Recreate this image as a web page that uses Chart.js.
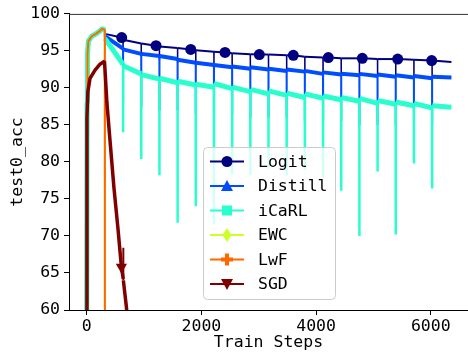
<!DOCTYPE html>
<html lang="en">
<head>
<meta charset="UTF-8">
<script src="https://cdn.jsdelivr.net/npm/chart.js@4.4.1/dist/chart.umd.min.js"></script>
<title>test0_acc</title>
<style>
  html, body { margin: 0; padding: 0; background: #fff; }
  canvas { display: block; }
</style>
</head>
<body>
<canvas id="myChart" width="468" height="356"></canvas>
<script>
// steps where a new task starts (dips in the eval curves)
const boundarySteps = [634, 951, 1268, 1585, 1902, 2219, 2536, 2853, 3170, 3487, 3804, 4121, 4438, 4755, 5072, 5389, 5706, 6023];
const segmentStarts = [317, ...boundarySteps];
const lastStep = 6360;

const xTicks = [0, 2000, 4000, 6000];
const yTicks = [60, 65, 70, 75, 80, 85, 90, 95, 100];

// first task, same for every method except SGD
const warmupSteps = [0, 6, 14, 28, 90, 160, 230, 270, 316];
const warmupAcc = [52, 88, 94.5, 96.3, 97.0, 97.3, 97.7, 98.0, 97.8];

// Logit
const logitStart = [97.3, 96.5, 96.0, 95.6, 95.4, 95.1, 94.9, 94.7, 94.55, 94.5, 94.4, 94.2, 94.1, 94.0, 94.0, 93.9, 93.9, 93.8, 93.7];
const logitEnd = [96.6, 96.0, 95.6, 95.4, 95.1, 94.9, 94.7, 94.55, 94.5, 94.4, 94.2, 94.1, 94.0, 94.0, 93.9, 93.9, 93.8, 93.7, 93.5];
const logitDip = [94.6, 94.2, 93.8, 93.4, 93.0, 92.8, 92.6, 92.4, 92.3, 92.1, 92.0, 91.8, 91.7, 91.6, 91.5, 91.4, 91.3, 91.2];
const logitMarkSteps = [610, 1209, 1814, 2412, 3010, 3603, 4213, 4806, 5423, 6016];
const logitMarkAcc = [96.8, 95.7, 95.2, 94.8, 94.5, 94.4, 94.1, 94.0, 93.9, 93.7];

// Distill
const distillStart = [97.0, 95.2, 94.6, 94.3, 93.8, 93.4, 93.1, 92.9, 92.8, 92.6, 92.5, 92.3, 92.1, 91.9, 91.9, 91.8, 91.7, 91.6, 91.5];
const distillEnd = [95.3, 94.6, 94.3, 93.9, 93.4, 93.1, 92.8, 92.6, 92.5, 92.3, 92.2, 91.9, 91.8, 91.7, 91.6, 91.5, 91.4, 91.3, 91.4];
const distillDip = [88, 87.5, 87, 87, 86.5, 86.5, 86.5, 86, 86, 86, 85.5, 85.5, 85.5, 85, 85, 85, 85, 85];

// iCaRL
const icarlStart = [96.7, 93.0, 91.8, 91.3, 90.9, 90.5, 90.6, 90.1, 89.8, 89.6, 89.3, 89.2, 88.9, 88.7, 88.6, 88.3, 88.1, 87.9, 87.6];
const icarlEnd = [93.2, 91.9, 91.2, 90.7, 90.4, 90.1, 89.9, 89.5, 89.2, 89.0, 88.7, 88.6, 88.4, 88.2, 87.9, 87.8, 87.6, 87.3, 87.4];
const icarlDip = [84.0, 80.4, 78.2, 71.8, 74.0, 71.6, 78.3, 78.2, 79.1, 78.2, 78.9, 78.0, 76.1, 70.0, 78.7, 70.2, 79.8, 76.4];

// EWC and LwF collapse right after the first task
const ewcDropSteps = [317];
const ewcDropAcc = [40];
const lwfDropSteps = [317];
const lwfDropAcc = [40];

// SGD
const sgdSteps = [0, 4, 20, 58, 145, 232, 310, 352, 405, 475, 545, 605, 637, 638, 639, 692, 760];
const sgdAcc = [40, 86, 89.5, 91.3, 92.4, 93.2, 93.6, 88.0, 83.0, 76.5, 71.0, 65.8, 64.2, 68.4, 64.0, 60.4, 54];
const sgdMarkSteps = [605];

const labels = ['Logit', 'Distill', 'iCaRL', 'EWC', 'LwF', 'SGD'];
const colors = ['#000080', '#004dff', '#29ffce', '#ceff29', '#ff6800', '#800000'];
const markers = ['circle', 'triangle', 'square', 'thinDiamond', 'plus', 'triangleDown'];

function zipPoints(xs, ys) {
  return xs.map((x, i) => ({ x: x, y: ys[i] }));
}

function buildTasks(start, end, dip, extraSteps, extraAcc) {
  const pts = zipPoints(warmupSteps, warmupAcc);
  segmentStarts.forEach((s, k) => {
    const hasDip = k < boundarySteps.length;
    const e = hasDip ? boundarySteps[k] : lastStep;
    pts.push({ x: k === 0 ? s : s + 1, y: start[k] });
    pts.push({ x: hasDip ? e - 1 : e, y: end[k] });
    if (hasDip) pts.push({ x: e, y: dip[k] });
  });
  if (extraSteps) pts.push(...zipPoints(extraSteps, extraAcc));
  pts.sort((a, b) => a.x - b.x);
  return pts;
}

const FONT = "'DejaVu Sans Mono', monospace";

function markRadius(list, r) {
  return (ctx) => (ctx.raw && list.includes(ctx.raw.x) ? r : 0);
}

const seriesData = [
  buildTasks(logitStart, logitEnd, logitDip, logitMarkSteps, logitMarkAcc),
  buildTasks(distillStart, distillEnd, distillDip),
  buildTasks(icarlStart, icarlEnd, icarlDip),
  zipPoints(warmupSteps.concat(ewcDropSteps), warmupAcc.concat(ewcDropAcc)),
  zipPoints(warmupSteps.concat(lwfDropSteps), warmupAcc.concat(lwfDropAcc)),
  zipPoints(sgdSteps, sgdAcc),
];
const widths = [2, 4, 5, 2, 2, 3.5];
const spikeWidths = [1.5, 2, 2.5, 2, 2, 2];

const datasets = seriesData.map((data, i) => ({
  label: labels[i],
  data: data,
  borderColor: colors[i],
  backgroundColor: colors[i],
  borderWidth: widths[i],
  borderJoinStyle: 'bevel',
  segment: {
    // near-vertical jumps (task switches) are drawn thin, the noisy band thick
    borderWidth: (ctx) => (Math.abs(ctx.p0.parsed.x - ctx.p1.parsed.x) <= 1 ? spikeWidths[i] : widths[i]),
  },
  pointRadius: i === 0 ? markRadius(logitMarkSteps, 5.5) : i === 5 ? markRadius(sgdMarkSteps, 6.5) : 0,
  pointHoverRadius: 0,
  pointStyle: i === 5 ? 'triangle' : 'circle',
  rotation: i === 5 ? 180 : 0,
  pointBorderWidth: 0,
  tension: 0,
  clip: 0,
  order: 6 - i,
}));

function drawMarker(c, kind, x, y, color) {
  c.fillStyle = color;
  c.beginPath();
  if (kind === 'circle') {
    c.arc(x, y, 5.5, 0, Math.PI * 2);
  } else if (kind === 'triangle') {
    c.moveTo(x, y - 6); c.lineTo(x + 6, y + 5); c.lineTo(x - 6, y + 5);
  } else if (kind === 'square') {
    c.rect(x - 5, y - 5, 10, 10);
  } else if (kind === 'thinDiamond') {
    c.moveTo(x, y - 7); c.lineTo(x + 4.5, y); c.lineTo(x, y + 7); c.lineTo(x - 4.5, y);
  } else if (kind === 'plus') {
    const a = 6, b = 2;
    c.moveTo(x - b, y - a); c.lineTo(x + b, y - a); c.lineTo(x + b, y - b); c.lineTo(x + a, y - b);
    c.lineTo(x + a, y + b); c.lineTo(x + b, y + b); c.lineTo(x + b, y + a); c.lineTo(x - b, y + a);
    c.lineTo(x - b, y + b); c.lineTo(x - a, y + b); c.lineTo(x - a, y - b); c.lineTo(x - b, y - b);
  } else if (kind === 'triangleDown') {
    c.moveTo(x, y + 6); c.lineTo(x + 6, y - 5); c.lineTo(x - 6, y - 5);
  }
  c.closePath();
  c.fill();
}

const framePlugin = {
  id: 'frame',
  afterDraw(chart) {
    const c = chart.ctx;
    const a = chart.chartArea;
    c.save();
    // top spine
    c.strokeStyle = '#333';
    c.lineWidth = 1;
    c.beginPath();
    c.moveTo(a.left, a.top + 0.5);
    c.lineTo(a.right, a.top + 0.5);
    c.stroke();

    // axis titles
    c.fillStyle = '#000';
    c.font = '16.5px ' + FONT;
    c.textAlign = 'center';
    c.textBaseline = 'middle';
    c.fillText('Train Steps', (a.left + a.right) / 2, 343);
    c.translate(18, (a.top + a.bottom) / 2);
    c.rotate(-Math.PI / 2);
    c.fillText('test0_acc', 0, 0);
    c.restore();

    // legend box
    c.save();
    const lx = 203.5, ly = 147.5, lw = 132, lh = 152;
    c.beginPath();
    c.roundRect(lx, ly, lw, lh, 4);
    c.fillStyle = 'rgba(255,255,255,0.8)';
    c.fill();
    c.strokeStyle = '#cccccc';
    c.lineWidth = 1;
    c.stroke();
    labels.forEach((name, i) => {
      const y = 161.5 + i * 24.5;
      c.strokeStyle = colors[i];
      c.lineWidth = 2;
      c.beginPath();
      c.moveTo(210, y);
      c.lineTo(244, y);
      c.stroke();
      drawMarker(c, markers[i], 227, y, colors[i]);
      c.fillStyle = '#000';
      c.font = '16.5px ' + FONT;
      c.textAlign = 'left';
      c.textBaseline = 'middle';
      c.fillText(name, 258, y + 1);
    });
    c.restore();
  },
};

const ctx = document.getElementById('myChart').getContext('2d');
const myChart = new Chart(ctx, {
  type: 'line',
  data: { datasets: datasets },
  options: {
    responsive: false,
    animation: false,
    devicePixelRatio: 1,
    layout: { padding: { top: 10, right: 0, left: 0, bottom: 0 } },
    plugins: { legend: { display: false }, tooltip: { enabled: false } },
    scales: {
      x: {
        type: 'linear',
        min: -309,
        max: 6649,
        afterBuildTicks: (s) => { s.ticks = xTicks.map((v) => ({ value: v })); },
        afterFit: (s) => { s.height = 46; },
        ticks: { font: { family: FONT, size: 16.5 }, color: '#000', maxRotation: 0, padding: 2, callback: (v) => String(v) },
        grid: { drawOnChartArea: false, drawTicks: true, tickLength: 5, color: '#000' },
        border: { display: true, color: '#000', width: 1 },
      },
      y: {
        type: 'linear',
        min: 60,
        max: 100,
        afterBuildTicks: (s) => { s.ticks = yTicks.map((v) => ({ value: v })); },
        afterFit: (s) => { s.width = 69; },
        ticks: { font: { family: FONT, size: 16.5 }, color: '#000', padding: 4, callback: (v) => String(v) },
        grid: { drawOnChartArea: false, drawTicks: true, tickLength: 5, color: '#000' },
        border: { display: true, color: '#000', width: 1 },
      },
    },
  },
  plugins: [framePlugin],
});
</script>
</body>
</html>
